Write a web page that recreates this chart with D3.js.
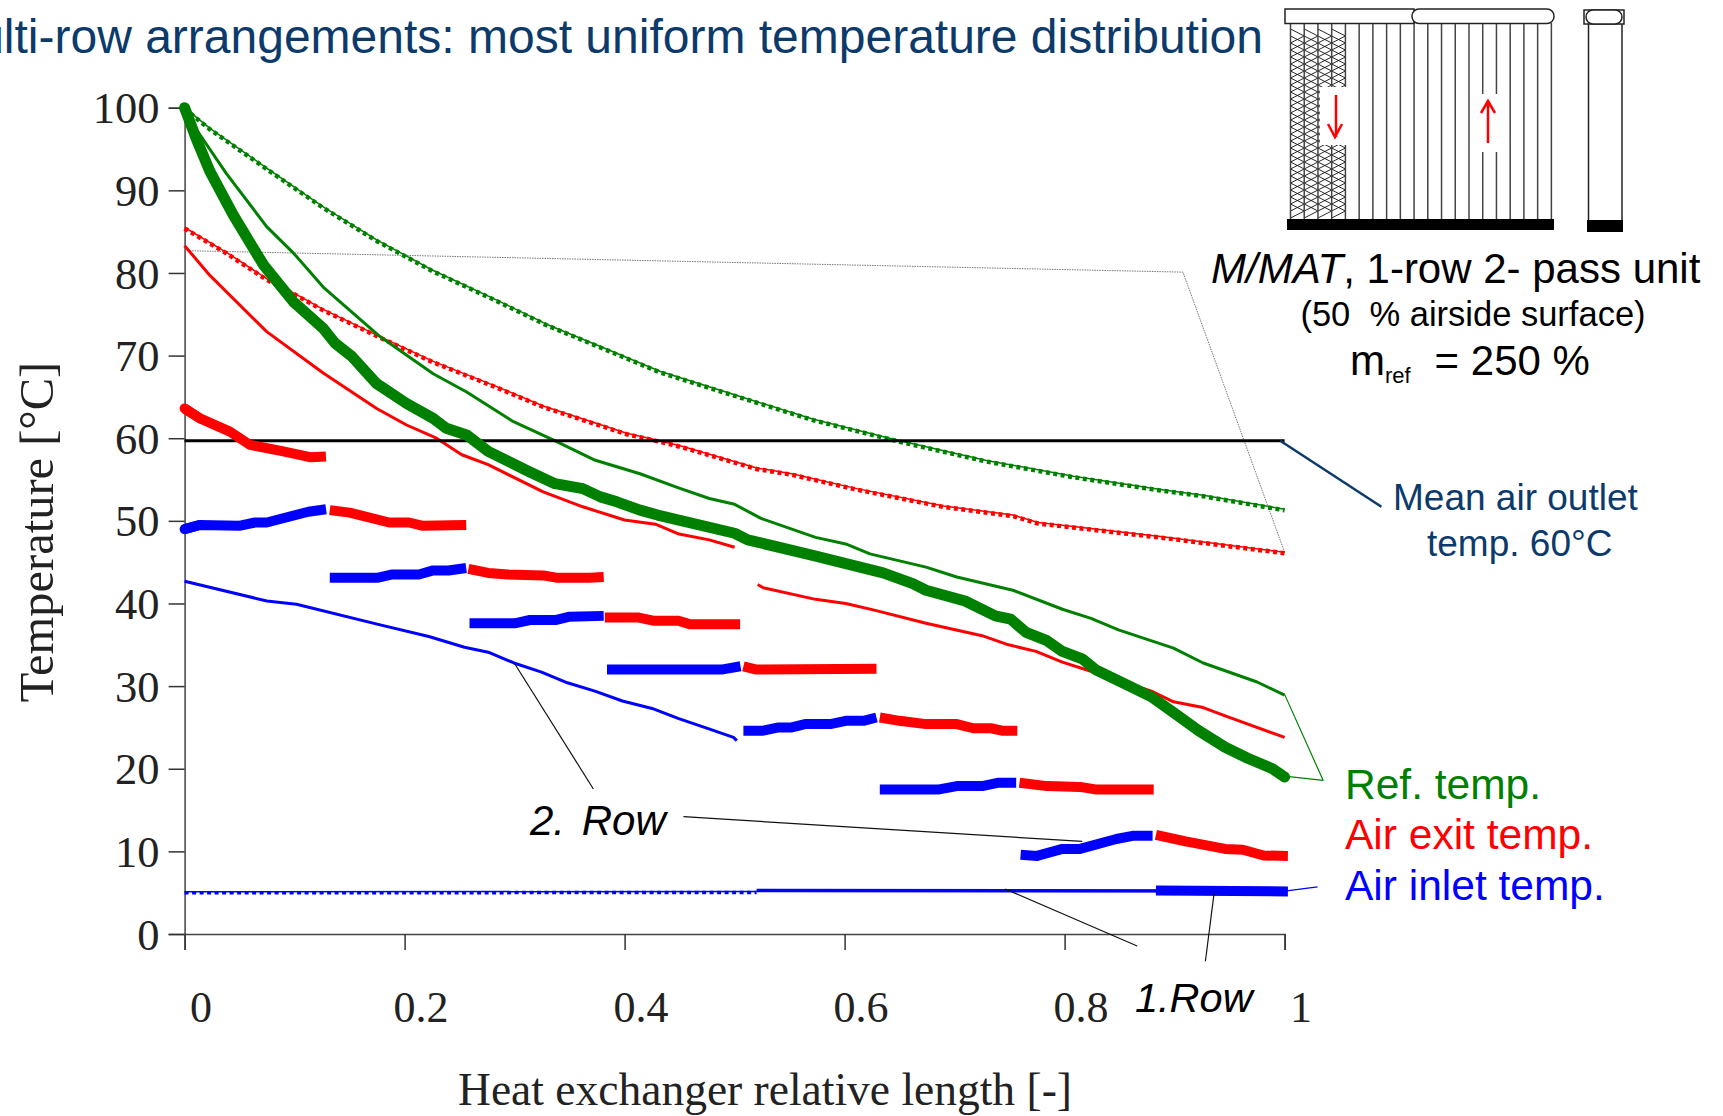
<!DOCTYPE html>
<html>
<head>
<meta charset="utf-8">
<style>
html, body { margin: 0; padding: 0; background: #fff; overflow: hidden; }
text { font-family: "Liberation Sans", Arial, sans-serif; }
.serif text, text.serif { font-family: "Liberation Serif", "Times New Roman", serif; }
</style>
<script src="https://cdn.jsdelivr.net/npm/d3@7"></script>
</head>
<body>
<svg width="1723" height="1116"></svg>
<script>
// all series are [relative length, temperature]
var refDotted = [[0,100],[.023,97.5],[.0746,92.7],[.126,88],[.1746,84],[.226,80.3],[.281,76.9],[.329,73.8],[.378,71.1],[.432,68.1],[.5086,64.9],[.5716,62.3],[.65,59.7],[.729,57.3],[.808,55.4],[.887,53.8],[.926,53.1],[1,51.4]];
var exitDotted = [[0,85.5],[.038,82.5],[.0746,79.3],[.099,77.6],[.126,75.6],[.1776,72.3],[.226,69.3],[.281,66.4],[.326,63.9],[.365,62.2],[.402,60.6],[.432,59.7],[.453,59],[.52,56.4],[.552,55.7],[.611,53.9],[.69,51.8],[.753,50.7],[.776,49.8],[.887,48.1],[1,46.2]];
var refThick = [[0,100],[.011,96.1],[.023,92.3],[.0443,87],[.0716,81],[.099,76.5],[.126,73.3],[.1367,71.5],[.152,69.9],[.1746,66.6],[.2018,64.2],[.226,62.4],[.238,61.2],[.2564,60.4],[.276,58.4],[.311,56.1],[.3367,54.5],[.362,53.9],[.378,52.9],[.393,52.3],[.414,51.3],[.43,50.7],[.5,48.5],[.512,47.7],[.572,45.8],[.635,43.7],[.662,42.4],[.674,41.6],[.7095,40.3],[.737,38.5],[.751,38.1],[.765,36.5],[.784,35.5],[.798,34.2],[.816,33.3],[.828,32],[.859,30],[.879,28.7],[.899,26.8],[.922,24.6],[.946,22.6],[.966,21.3],[.989,20],[1,19]];
var refThin = [[0,100],[.011,97.3],[.0382,92],[.0746,85.6],[.099,82.4],[.126,78.3],[.1776,72.3],[.226,67.8],[.2564,65.6],[.299,62],[.335,59.8],[.372,57.4],[.414,55.7],[.449,54],[.477,52.7],[.5,52],[.524,50.3],[.5736,48],[.601,47.2],[.623,46],[.674,44.4],[.702,43.2],[.753,41.6],[.798,39.3],[.824,38.2],[.849,36.8],[.899,34.6],[.926,32.8],[.975,30.5],[1,28.9]];
var exitThinA = [[0,83.3],[.023,79.7],[.0746,72.9],[.126,67.9],[.1746,63.6],[.2018,61.6],[.229,60],[.252,58],[.276,56.8],[.326,53.5],[.362,51.7],[.4,50.1],[.428,49.6],[.4495,48.4],[.477,47.7],[.5,46.8]];
var exitThinB = [[.521,42.3],[.526,41.9],[.5736,40.5],[.601,40],[.627,39.2],[.674,37.6],[.725,36.1],[.749,35],[.774,34.2],[.798,32.9],[.824,31.8],[.849,30.7],[.879,29.4],[.899,28.1],[.926,27.4],[.946,26.4],[1,23.8]];
var inletThin = [[0,42.7],[.0747,40.3],[.1017,39.9],[.175,37.5],[.222,36],[.2544,34.7],[.276,34.1],[.2994,32.8],[.3245,31.7],[.348,30.4],[.373,29.4],[.398,28.2],[.425,27.3],[.4486,26.1],[.4773,24.8],[.499,23.8],[.502,23.4]];
var inletDotted = [[0,5.1],[.52,5.15]];
var inletSolid = [[.52,5.25],[1,5.2]];
var meanOutlet = [[0,59.7],[1,59.7]];

var exitSegments = [
  [[0,63.6],[.014,62.4],[.0412,60.8],[.0594,59.2],[.0897,58.4],[.114,57.7],[.1285,57.8]],
  [[.132,51.3],[.15,51],[.186,49.8],[.204,49.8],[.2167,49.4],[.256,49.5]],
  [[.258,44.2],[.276,43.7],[.294,43.5],[.326,43.4],[.339,43.1],[.368,43.1],[.381,43.2]],
  [[.382,38.3],[.413,38.3],[.427,37.9],[.449,37.9],[.459,37.5],[.505,37.5]],
  [[.508,32.4],[.52,32],[.629,32.1]],
  [[.632,26.2],[.65,25.8],[.674,25.4],[.702,25.4],[.717,24.9],[.733,24.9],[.743,24.6],[.757,24.6]],
  [[.759,18.3],[.784,17.9],[.814,17.8],[.828,17.5],[.881,17.5]],
  [[.883,12],[.91,11.2],[.946,10.3],[.962,10.2],[.981,9.5],[1.003,9.45]]
];
var inletSegments = [
  [[0,49],[.0136,49.5],[.0495,49.4],[.064,49.8],[.0747,49.8],[.1125,51.1],[.1286,51.4]],
  [[.132,43.1],[.175,43.1],[.188,43.5],[.213,43.5],[.226,44],[.24,44],[.256,44.3]],
  [[.259,37.6],[.3,37.6],[.314,38],[.337,38],[.35,38.4],[.381,38.5]],
  [[.384,32],[.488,32],[.5054,32.4]],
  [[.508,24.6],[.526,24.6],[.54,25],[.552,25],[.564,25.4],[.587,25.4],[.601,25.8],[.617,25.8],[.629,26.2]],
  [[.632,17.5],[.686,17.5],[.702,17.9],[.725,17.9],[.739,18.3],[.756,18.3]],
  [[.76,9.6],[.775,9.45],[.798,10.3],[.814,10.3],[.847,11.5],[.863,11.9],[.88,11.9]],
  [[.883,5.25],[1.003,5.15]]
];

var xTicks = [0, .2, .4, .6, .8, 1];
var yTicks = [0, 10, 20, 30, 40, 50, 60, 70, 80, 90, 100];

// callouts, same units as the data
var grayLeader = [[0,82.7],[.9076,80.1],[1,46.2]];
var row2Leaders = [[[.2997,32.8],[.3716,17.55]], [[.4535,14.2],[.816,11.2]]];
var row1Leaders = [[[.746,5.45],[.866,-1.46]], [[.936,5.05],[.928,-3.3]]];
var refLeader = [[1,29],[1.035,18.6],[1,19.1]];
var inletLeader = [[1,5.2],[1.03,5.7]];
var outletLeader = [[.996,59.7],[1.088,51.7]];

var GREEN = "#008000", RED = "#ff0000", BLUE = "#0000ff", NAVY = "#0b3a6b";

var svg = d3.select("svg");
var x = d3.scaleLinear().domain([0, 1]).range([184.6, 1284.6]);
var y = d3.scaleLinear().domain([0, 100]).range([934, 107.7]);
var line = d3.line().x(function(d) { return x(d[0]); }).y(function(d) { return y(d[1]); });

// axes
var xAxis = svg.append("g").attr("class", "serif")
    .attr("transform", "translate(0," + y(0) + ")")
    .call(d3.axisBottom(x).tickValues(xTicks).tickSize(16).tickFormat(function(d) { return d; }));
xAxis.selectAll("text").attr("dx", 16).attr("y", 88).attr("dy", 0).attr("font-size", 44).attr("fill", "#222");

var yAxis = svg.append("g").attr("class", "serif")
    .attr("transform", "translate(" + x(0) + ",0)")
    .call(d3.axisLeft(y).tickValues(yTicks).tickSize(16));
yAxis.selectAll("text").attr("x", -25).attr("dy", "0.34em").attr("font-size", 44.5).attr("fill", "#222");

svg.selectAll(".domain").attr("stroke", "#444").attr("stroke-width", 1.5);
svg.selectAll(".tick line").attr("stroke", "#333").attr("stroke-width", 1.5);

function draw(data, color, width, dash, shift) {
  var p = svg.append("path")
      .datum(data)
      .attr("d", line)
      .attr("fill", "none")
      .attr("stroke", color)
      .attr("stroke-width", width)
      .attr("stroke-linejoin", "round");
  if (dash) p.attr("stroke-dasharray", dash);
  if (shift) p.attr("transform", "translate(0," + shift + ")");
  return p;
}

draw(grayLeader, "#777", 1, "1.5,1");

// dotted runs have a thin solid line sitting just above them
draw(refDotted, GREEN, 1.5);
draw(refDotted, GREEN, 4.5, "4,3.5", 1);
draw(exitDotted, RED, 1.5);
draw(exitDotted, RED, 4.5, "4,3.5", 1);
draw(inletDotted, BLUE, 1.5);
draw(inletDotted, BLUE, 3.5, "4,3.5", 1);
draw(inletSolid, BLUE, 3.5);

draw(refThin, GREEN, 3);
draw(exitThinA, RED, 3);
draw(exitThinB, RED, 3);
draw(inletThin, BLUE, 3);

draw(meanOutlet, "#000", 3);

exitSegments.forEach(function(s) { draw(s, RED, 10); });
inletSegments.forEach(function(s) { draw(s, BLUE, 10); });
draw(refThick, GREEN, 11).attr("stroke-linecap", "round");
draw(exitSegments[0].slice(0, 2), RED, 10).attr("stroke-linecap", "round");
draw(inletSegments[0].slice(0, 2), BLUE, 10).attr("stroke-linecap", "round");

draw(refLeader, GREEN, 1.2);
draw(inletLeader, BLUE, 1.2);
draw(outletLeader, NAVY, 2.5);
row2Leaders.concat(row1Leaders).forEach(function(s) { draw(s, "#111", 1.2); });

function label(txt, px, py, size, color, opts) {
  opts = opts || {};
  return svg.append("text")
      .attr("x", px).attr("y", py)
      .attr("font-size", size)
      .attr("fill", color || "#000")
      .attr("text-anchor", opts.anchor || "start")
      .attr("font-style", opts.italic ? "italic" : "normal")
      .text(txt);
}

// cut off on the left in the source slide
label("Multi-row arrangements: most uniform temperature distribution", 1263, 52.5, 48, NAVY, {anchor: "end"});

svg.append("text").attr("class", "serif")
    .attr("transform", "translate(53,532) rotate(-90)")
    .attr("text-anchor", "middle").attr("font-size", 48.5).attr("fill", "#222")
    .text("Temperature [°C]");
svg.append("text").attr("class", "serif")
    .attr("x", 765).attr("y", 1105)
    .attr("text-anchor", "middle").attr("font-size", 45.5).attr("fill", "#222")
    .text("Heat exchanger relative length [-]");

label("Ref. temp.", 1345, 799, 42.5, GREEN);
label("Air exit temp.", 1345, 849, 42.5, RED);
label("Air inlet temp.", 1345, 900, 42.5, BLUE);
label("Mean air outlet", 1393, 510, 37, NAVY);
label("temp. 60°C", 1427, 556, 37, NAVY);
var row2 = label("2.", 530, 835, 42, "#000", {italic: true});
row2.append("tspan").attr("dx", 5).text(" Row");
label("1.Row", 1135, 1012, 41.5, "#000", {italic: true});

// unit caption
var cap = svg.append("text").attr("x", 1211).attr("y", 283).attr("font-size", 42);
cap.append("tspan").attr("font-style", "italic").text("M/MAT");
cap.append("tspan").text(", 1-row 2- pass unit");
label("(50  % airside surface)", 1473, 326, 34.5, "#000", {anchor: "middle"}).attr("xml:space", "preserve");
var mref = svg.append("text").attr("x", 1350).attr("y", 375).attr("font-size", 42).attr("xml:space", "preserve");
mref.append("tspan").text("m");
mref.append("tspan").attr("font-size", 22).attr("dy", 8).text("ref  ");
mref.append("tspan").attr("dy", -8).text(" = 250 %");

// heat exchanger sketch, schematic only, in page pixels
var sk = svg.append("g").attr("fill", "none").attr("stroke", "#222");
var tubeX = d3.range(20).map(function(i) { return 1290.5 + i * 13.73; });

var zig = sk.append("g").attr("stroke-width", 0.9).attr("stroke", "#111");
[0, 1, 2, 3].forEach(function(c) {
  var xa = tubeX[c], xb = tubeX[c + 1];
  [0, 7].forEach(function(off) {
    var pts = d3.range(0, 27).map(function(i) {
      return [i % 2 ? xb : xa, 29 + off + i * 7];
    });
    zig.append("path").attr("d", d3.line()(pts));
  });
});

sk.selectAll("line.tube").data(tubeX).enter().append("line")
    .attr("x1", function(d) { return d; }).attr("x2", function(d) { return d; })
    .attr("y1", 23).attr("y2", 219)
    .attr("stroke", "#444").attr("stroke-width", 1.5);

// white openings behind the flow arrows
sk.append("rect").attr("x", 1320).attr("y", 87).attr("width", 38).attr("height", 58).attr("fill", "#fff").attr("stroke", "none");
sk.append("rect").attr("x", 1474).attr("y", 94).attr("width", 28).attr("height", 58).attr("fill", "#fff").attr("stroke", "none");

sk.append("rect").attr("x", 1285).attr("y", 9).attr("width", 129).attr("height", 14.5).attr("fill", "#fff").attr("stroke-width", 1.5);
sk.append("rect").attr("x", 1412).attr("y", 9).attr("width", 142).attr("height", 14.5).attr("rx", 7).attr("fill", "#fff").attr("stroke-width", 1.5);
sk.append("rect").attr("x", 1287).attr("y", 219).attr("width", 267).attr("height", 11).attr("fill", "#000").attr("stroke", "none");

// side view
sk.append("rect").attr("x", 1584).attr("y", 10).attr("width", 40).attr("height", 14).attr("fill", "#fff").attr("stroke-width", 1.5);
sk.append("rect").attr("x", 1586).attr("y", 10).attr("width", 36).attr("height", 14).attr("rx", 7).attr("fill", "#fff").attr("stroke-width", 1.5);
sk.append("line").attr("x1", 1588.5).attr("x2", 1588.5).attr("y1", 24).attr("y2", 220).attr("stroke-width", 1.5);
sk.append("line").attr("x1", 1622).attr("x2", 1622).attr("y1", 24).attr("y2", 220).attr("stroke-width", 1.5);
sk.append("rect").attr("x", 1587).attr("y", 220).attr("width", 36).attr("height", 12).attr("fill", "#000").attr("stroke", "none");

var ar = svg.append("g").attr("fill", "none").attr("stroke", RED).attr("stroke-width", 2.5);
ar.append("path").attr("d", "M1336,95V137M1328,124L1335,137L1342,124");
ar.append("path").attr("d", "M1488,143V101M1481,113L1488,101L1495,113");
</script>
</body>
</html>
